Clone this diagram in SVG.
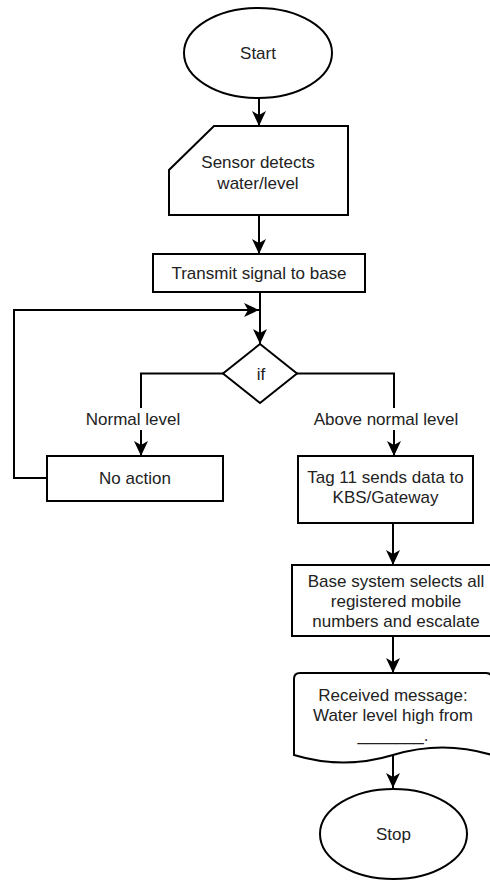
<svg xmlns="http://www.w3.org/2000/svg" width="490" height="881" viewBox="0 0 490 881">
<defs>
<marker id="arr" markerUnits="userSpaceOnUse" markerWidth="16" markerHeight="16" refX="15" refY="7" orient="auto">
<path d="M0,0 L15,7 L0,14 L4,7 Z" fill="#000"/>
</marker>
<style>
.s{fill:#fff;stroke:#000;stroke-width:2}
.t{font-family:"Liberation Sans",Arial,sans-serif;font-size:17px;fill:#222;text-anchor:middle}
.c{fill:none;stroke:#000;stroke-width:2}
.a{fill:none;stroke:#000;stroke-width:2;marker-end:url(#arr)}
</style>
</defs>
<rect width="490" height="881" fill="#fff"/>
<g id="connectors">
<path class="a" d="M259,98 V126"/>
<path class="a" d="M259,215 V254"/>
<path class="a" d="M260,292 V344"/>
<path class="a" d="M47,478 H14 V310 H259"/>
<path class="c" d="M223,373.5 H141 V408"/>
<path class="a" d="M141,430 V456"/>
<path class="c" d="M297,373.5 H394 V408"/>
<path class="a" d="M394,430 V456"/>
<path class="a" d="M393,523 V565"/>
<path class="a" d="M393,636 V673"/>
<path class="a" d="M393,755 V788"/>
</g>
<g id="start">
<ellipse class="s" cx="258" cy="53" rx="74" ry="45"/>
<text class="t" x="258" y="59">Start</text>
</g>
<g id="sensor">
<path class="s" d="M214,126 H348 V215 H169 V170 Z"/>
<text class="t" x="258" y="168">Sensor detects</text>
<text class="t" x="258" y="189">water/level</text>
</g>
<g id="transmit">
<rect class="s" x="153" y="254" width="212" height="38"/>
<text class="t" x="259" y="279">Transmit signal to base</text>
</g>
<g id="decision">
<path class="s" d="M260,344 L297,373.5 L260,403 L223,373.5 Z"/>
<text class="t" x="261" y="380">if</text>
</g>
<g id="label-normal">
<text class="t" x="133" y="425">Normal level</text>
</g>
<g id="label-above">
<text class="t" x="386" y="425">Above normal level</text>
</g>
<g id="noaction">
<rect class="s" x="47" y="456" width="176" height="45"/>
<text class="t" x="135" y="484">No action</text>
</g>
<g id="tag11">
<rect class="s" x="298" y="456" width="175" height="67"/>
<text class="t" x="385.5" y="483">Tag 11 sends data to</text>
<text class="t" x="385.5" y="503">KBS/Gateway</text>
</g>
<g id="basesystem">
<rect class="s" x="292" y="565" width="208" height="71"/>
<text class="t" x="396" y="587">Base system selects all</text>
<text class="t" x="396" y="607">registered mobile</text>
<text class="t" x="396" y="627">numbers and escalate</text>
</g>
<g id="message">
<path class="s" d="M294,755 V679 Q294,673 300,673 H486 Q492,673 492,679 V755 Q442.5,740 393,755 Q343.5,770 294,755 Z"/>
<text class="t" x="393" y="701">Received message:</text>
<text class="t" x="393" y="721">Water level high from</text>
<text class="t" x="393" y="741">_______.</text>
</g>
<g id="stop">
<ellipse class="s" cx="393.5" cy="834" rx="73.5" ry="45"/>
<text class="t" x="393.5" y="840">Stop</text>
</g>
</svg>
